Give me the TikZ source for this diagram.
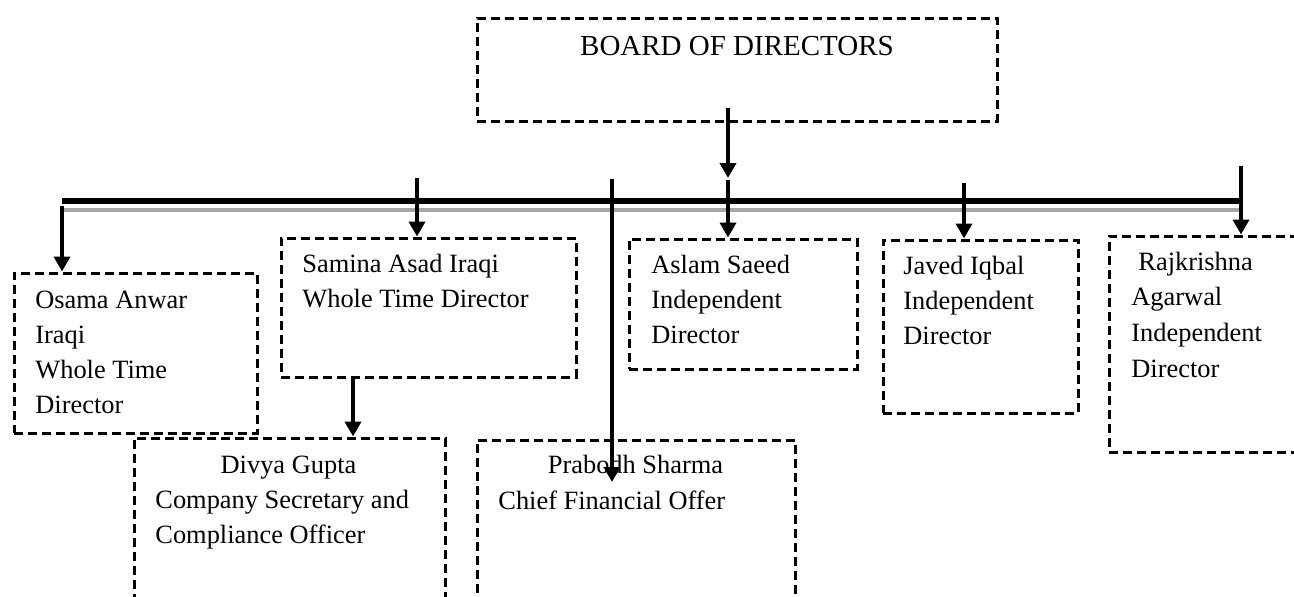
\documentclass[tikz,border=0pt]{standalone}
\usepackage{fontspec}
\setmainfont{Liberation Serif}
\usetikzlibrary{arrows.meta, positioning}

\begin{document}
\begin{tikzpicture}[x=0.5pt, y=-0.5pt,
  post/.style={draw, line width=1.5pt, dash pattern=on 4.5pt off 2.5pt, inner sep=0pt},
  txt/.style={inner sep=0pt, align=left, font=\fontsize{13.2}{17.5}\selectfont},
  link/.style={line width=2.25pt, -{Triangle[length=7.5pt, width=8pt]}}]
\useasboundingbox (0,0) rectangle (1294,596);
\clip (0,0) rectangle (1294,596);
% boxes
\node[post, minimum width=260pt, minimum height=51.5pt] (board) at (737,69.5) {};
\node[post, minimum width=121.5pt, minimum height=80pt] (osama) at (135.5,353) {};
\node[post, minimum width=147.5pt, minimum height=69.5pt] (samina) at (428.5,307.5) {};
\node[post, minimum width=114pt, minimum height=65pt] (aslam) at (743,304) {};
\node[post, minimum width=97.5pt, minimum height=86.5pt] (javed) at (980.5,326.5) {};
\node[post, minimum width=105.5pt, minimum height=108pt] (rajk) at (1214.5,344) {};
\node[post, minimum width=155.5pt, minimum height=101pt] (divya) at (289.5,539) {};
\node[post, minimum width=159pt, minimum height=100pt] (prabodh) at (636,540) {};
% texts (base = baseline of the last line)
\node[txt, anchor=base, font=\fontsize{14.5}{17.5}\selectfont] (boardT) at (737,55) {BOARD OF DIRECTORS};
\node[txt, anchor=base west] (osamaT) at (35,413) {Osama Anwar\\Iraqi\\Whole Time\\Director};
\node[txt, anchor=base west] (saminaT) at (302,307) {Samina Asad Iraqi\\Whole Time Director};
\node[txt, anchor=base west] (aslamT) at (651,343) {Aslam Saeed\\Independent\\Director};
\node[txt, anchor=base west] (javedT) at (903,344) {Javed Iqbal\\Independent\\Director};
\node[txt, anchor=base west, font=\fontsize{13.2}{17.8}\selectfont] (rajkT) at (1131,377) {\hspace*{3.5pt}Rajkrishna\\Agarwal\\Independent\\Director};
\node[txt, anchor=base] (divyaN) at (288.5,473) {Divya Gupta};
\node[txt, anchor=base west] (divyaT) at (155,543) {Company Secretary and\\Compliance Officer};
\node[txt, anchor=base] (prabodhN) at (635.5,473) {Prabodh Sharma};
\node[txt, anchor=base west] (prabodhT) at (498,509) {Chief Financial Offer};
% horizontal bar with its grey shadow
\coordinate (barL) at (62,201);
\coordinate (barR) at (1243,201);
\draw[gray!70, line width=2pt] ([yshift=-4.5]barL) -- ([yshift=-4.5]barR);
\draw[line width=2.75pt] (barL) -- (barR);
% connectors
\coordinate (sBoard) at (728,108);
\coordinate (sBar) at (728,178);
\coordinate (sAslam) at (728,180);
\coordinate (sPrabodh) at (612,179);
\coordinate (ePrabodh) at (612,482);
\coordinate (sDivya) at (353,0);
\draw[link] (sBoard) -- (sBar);
\draw[link] (sAslam) -- (sAslam |- aslam.north);
\foreach \x/\y/\n in {62/206/osama, 417/178/samina, 964/183/javed, 1241/166/rajk} {
  \coordinate (s\n) at (\x,\y);
  \draw[link] (s\n) -- (s\n |- \n.north);
}
\draw[link] (sDivya |- samina.south) -- (sDivya |- divya.north);
\draw[link] (sPrabodh) -- (ePrabodh);
\end{tikzpicture}
\end{document}
